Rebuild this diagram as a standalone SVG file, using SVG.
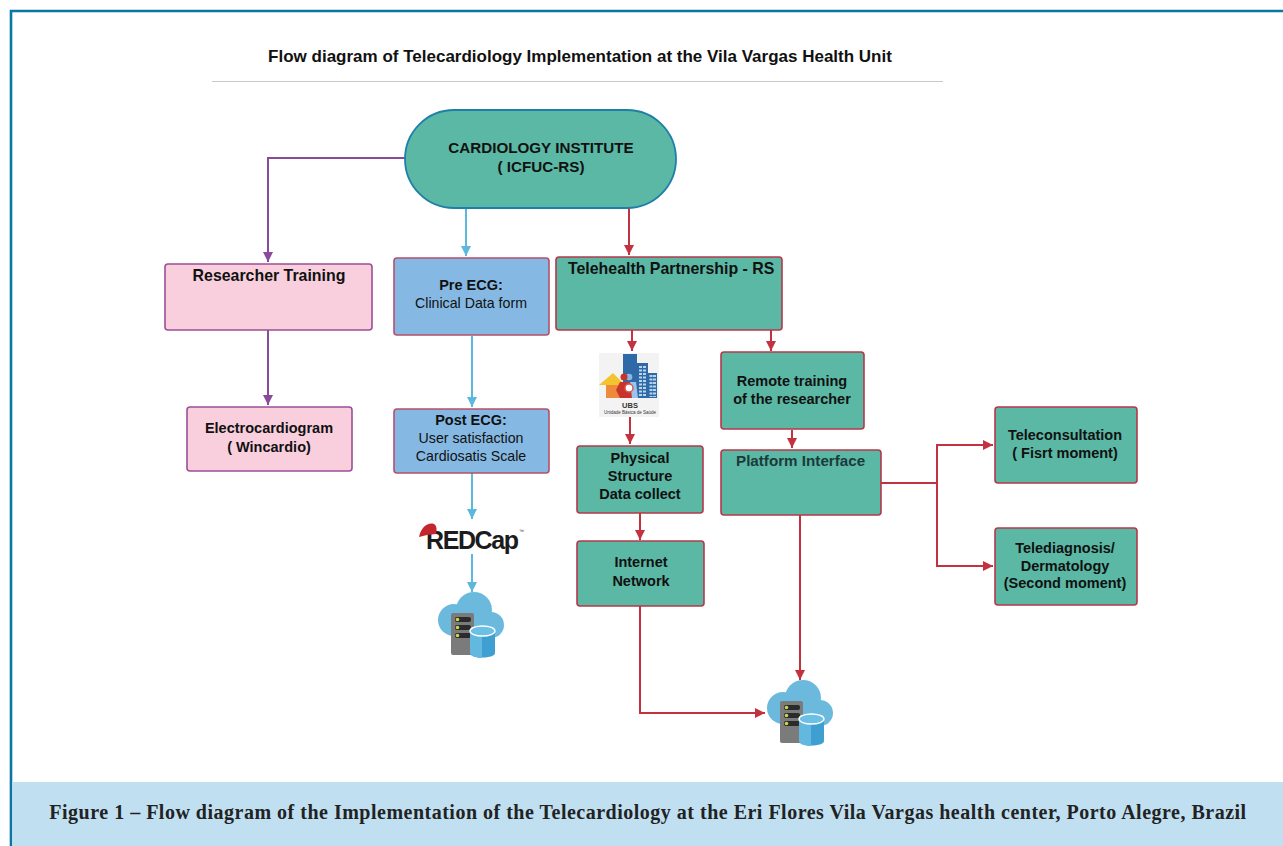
<svg xmlns="http://www.w3.org/2000/svg" width="1283" height="846" viewBox="0 0 1283 846">
<style>
text{font-family:"Liberation Sans",Arial,sans-serif;fill:#111}
.b{font-weight:700;font-size:14.5px}
.r{font-size:14.2px}
.c{text-anchor:middle}
.g{fill:#5ab8a4;stroke:#b5384a;stroke-width:1.6}
.p{fill:#f9cfde;stroke:#9c4f96;stroke-width:1.6}
.u{fill:#85b9e3;stroke:#b5506a;stroke-width:1.6}
.l{fill:none;stroke-width:2}
.pu{stroke:#8a4a9c}.bl{stroke:#5cb8dc}.re{stroke:#c23240}
.w{stroke:#b9d3ea;stroke-width:3;stroke-dasharray:2 1.500;fill:none}
</style>
<defs>
<marker id="ap" markerWidth="11" markerHeight="11" refX="10" refY="5" orient="auto" markerUnits="userSpaceOnUse"><path d="M0 0L10 5L0 10Z" fill="#8a4a9c"/></marker>
<marker id="ab" markerWidth="11" markerHeight="11" refX="10" refY="5" orient="auto" markerUnits="userSpaceOnUse"><path d="M0 0L10 5L0 10Z" fill="#5cb8dc"/></marker>
<marker id="ar" markerWidth="11" markerHeight="11" refX="10" refY="5" orient="auto" markerUnits="userSpaceOnUse"><path d="M0 0L10 5L0 10Z" fill="#c23240"/></marker>
<g id="cloud">
<g fill="#6bbade"><circle cx="3" cy="-7" r="18"/><circle cx="-17" cy="3" r="16"/><circle cx="20" cy="8" r="13"/><rect x="-17" y="0" width="37" height="21"/></g>
<rect x="-20" y="-4" width="23" height="42" rx="2" fill="#7b7b7b"/>
<rect x="-16" y="0" width="16" height="5" rx="2" fill="#2b2b2b"/><rect x="-16" y="8" width="16" height="5" rx="2" fill="#2b2b2b"/><rect x="-16" y="16" width="16" height="5" rx="2" fill="#2b2b2b"/>
<circle cx="-13.500" cy="2.500" r="1.800" fill="#c8d84a"/><circle cx="-13.500" cy="10.500" r="1.800" fill="#c8d84a"/><circle cx="-13.500" cy="18.500" r="1.800" fill="#c8d84a"/>
<path d="M-1 14V36C-1 42 24 42 24 36V14Z" fill="#3f9fd0"/><path d="M-1 14V36C-1 39 6 41 11 41V18C5 18-1 17-1 14Z" fill="#62b8de"/>
<ellipse cx="11.500" cy="14" rx="12.500" ry="5" fill="#6cc0e6" stroke="#fff" stroke-width="1.300"/>
</g>
</defs>
<rect width="1283" height="846" fill="#fff"/>
<path d="M1283 11H11V846" fill="none" stroke="#0a76a8" stroke-width="2.600"/>
<rect x="12.300" y="782" width="1270.700" height="64" fill="#c0e0f2"/>
<text x="648" y="819" text-anchor="middle" style="font-family:'Liberation Serif',serif;font-weight:700;font-size:20px;letter-spacing:.5px;fill:#222">Figure 1 – Flow diagram of the Implementation of the Telecardiology at the Eri Flores Vila Vargas health center, Porto Alegre, Brazil</text>
<text class="c" x="580" y="62" style="font-weight:700;font-size:17px">Flow diagram of Telecardiology Implementation at the Vila Vargas Health Unit</text>
<line x1="212" y1="81.500" x2="943" y2="81.500" stroke="#c9c9c9" stroke-width="1"/>
<g id="connectors">
<path class="l pu" marker-end="url(#ap)" d="M405 158H268V262"/>
<path class="l pu" marker-end="url(#ap)" d="M268 330V405"/>
<path class="l bl" marker-end="url(#ab)" d="M466 208V256"/>
<path class="l bl" marker-end="url(#ab)" d="M472 336V407"/>
<path class="l bl" marker-end="url(#ab)" d="M472 473V519"/>
<path class="l bl" marker-end="url(#ab)" d="M472 554V592"/>
<path class="l re" marker-end="url(#ar)" d="M629 208V255"/>
<path class="l re" marker-end="url(#ar)" d="M632 330V351"/>
<path class="l re" marker-end="url(#ar)" d="M771 330V351"/>
<path class="l re" marker-end="url(#ar)" d="M630 417V444"/>
<path class="l re" marker-end="url(#ar)" d="M792 430V448"/>
<path class="l re" marker-end="url(#ar)" d="M640 513V540"/>
<path class="l re" marker-end="url(#ar)" d="M640 606V713H765"/>
<path class="l re" marker-end="url(#ar)" d="M800 515V680"/>
<path class="l re" marker-end="url(#ar)" d="M881 483H937V445H993"/>
<path class="l re" marker-end="url(#ar)" d="M937 483V566H993"/>
</g>
<g id="n-institute"><rect x="405" y="110" width="271" height="98" rx="49" fill="#5ab8a4" stroke="#1f7fa8" stroke-width="1.800"/><text class="c b" x="541" y="153" style="font-size:15.200px">CARDIOLOGY INSTITUTE</text><text class="c b" x="541" y="172" style="font-size:15.200px">( ICFUC-RS)</text></g>
<g id="n-researcher"><rect class="p" x="165" y="264" width="207" height="66" rx="3"/><text class="c b" x="269" y="281" style="font-size:15.900px">Researcher Training</text></g>
<g id="n-ecg"><rect class="p" x="187" y="407" width="165" height="64" rx="3"/><text class="c b" x="269" y="433">Electrocardiogram</text><text class="c b" x="269" y="452">( Wincardio)</text></g>
<g id="n-pre"><rect class="u" x="394" y="258" width="155" height="77" rx="3"/><text class="c b" x="471" y="290">Pre ECG:</text><text class="c r" x="471" y="308">Clinical Data form</text></g>
<g id="n-post"><rect class="u" x="394" y="409" width="155" height="64" rx="3"/><text class="c b" x="471" y="425">Post ECG:</text><text class="c r" x="471" y="443">User satisfaction</text><text class="c r" x="471" y="461">Cardiosatis Scale</text></g>
<g id="n-tele"><rect class="g" x="556" y="257" width="226" height="73" rx="3"/><text class="b" x="568" y="274" style="font-size:15.900px">Telehealth Partnership - RS</text></g>
<g id="n-remote"><rect class="g" x="721" y="352" width="143" height="77" rx="3"/><text class="c b" x="792" y="386">Remote training</text><text class="c b" x="792" y="404">of the researcher</text></g>
<g id="n-physical"><rect class="g" x="577" y="446" width="126" height="67" rx="3"/><text class="c b" x="640" y="463">Physical</text><text class="c b" x="640" y="481">Structure</text><text class="c b" x="640" y="499">Data collect</text></g>
<g id="n-internet"><rect class="g" x="577" y="541" width="127" height="65" rx="3"/><text class="c b" x="641" y="567">Internet</text><text class="c b" x="641" y="586">Network</text></g>
<g id="n-platform"><rect class="g" x="721" y="450" width="160" height="65" rx="3"/><text class="b" x="736" y="466" style="font-size:15.200px;fill:#1c3a3a">Platform Interface</text></g>
<g id="n-consult"><rect class="g" x="995" y="407" width="142" height="76" rx="3"/><text class="c b" x="1065" y="440">Teleconsultation</text><text class="c b" x="1065" y="458">( Fisrt moment)</text></g>
<g id="n-diag"><rect class="g" x="995" y="528" width="142" height="77" rx="3"/><text class="c b" x="1065" y="553">Telediagnosis/</text><text class="c b" x="1065" y="571">Dermatology</text><text class="c b" x="1065" y="588">(Second moment)</text></g>
<g id="n-ubs">
<rect x="599" y="353" width="60" height="64" fill="#f3f3f3"/>
<rect x="623" y="354" width="14" height="44" fill="#2f6aa8"/><rect x="637" y="363" width="11" height="35" fill="#2f6aa8"/><rect x="648" y="373" width="9" height="25" fill="#2f6aa8"/>
<path class="w" d="M640.500 366V397M644.500 366V397M651 375V397M654.500 375V397"/>
<path d="M599 385L613 373L625 385Z" fill="#f4c430"/><rect x="606" y="385" width="14" height="13" fill="#ef8a3a"/>
<path d="M630 382H636L638 398H630Z" fill="#9cc4ea"/><circle cx="629" cy="377" r="3.300" fill="#8fb8e0"/>
<circle cx="624" cy="377" r="3.500" fill="#c8342c"/><path d="M616 390L620 382H630L632 398H620Z" fill="#c8342c"/>
<circle cx="629" cy="388" r="4" fill="#fff" stroke="#d9574f" stroke-width="1.500"/>
<text class="c" x="630" y="408" style="font-size:7.500px;font-weight:700;fill:#333">UBS</text>
<text class="c" x="630" y="414" style="font-size:4.500px;fill:#333">Unidade Básica de Saúde</text>
</g>
<g id="n-redcap">
<text x="426" y="549" style="font-weight:700;font-size:25px;letter-spacing:-1.400px;fill:#1c1c1c">REDCap</text>
<text x="519" y="533" style="font-size:5px;fill:#333">™</text>
<path d="M419 537C421 527 428 522 434 524C437 526 437 530 436 534L427 535Z" fill="#c4262e"/>
</g>
<g id="n-cloud1"><use href="#cloud" x="471" y="617"/></g>
<g id="n-cloud2"><use href="#cloud" x="800" y="705"/></g>
</svg>
